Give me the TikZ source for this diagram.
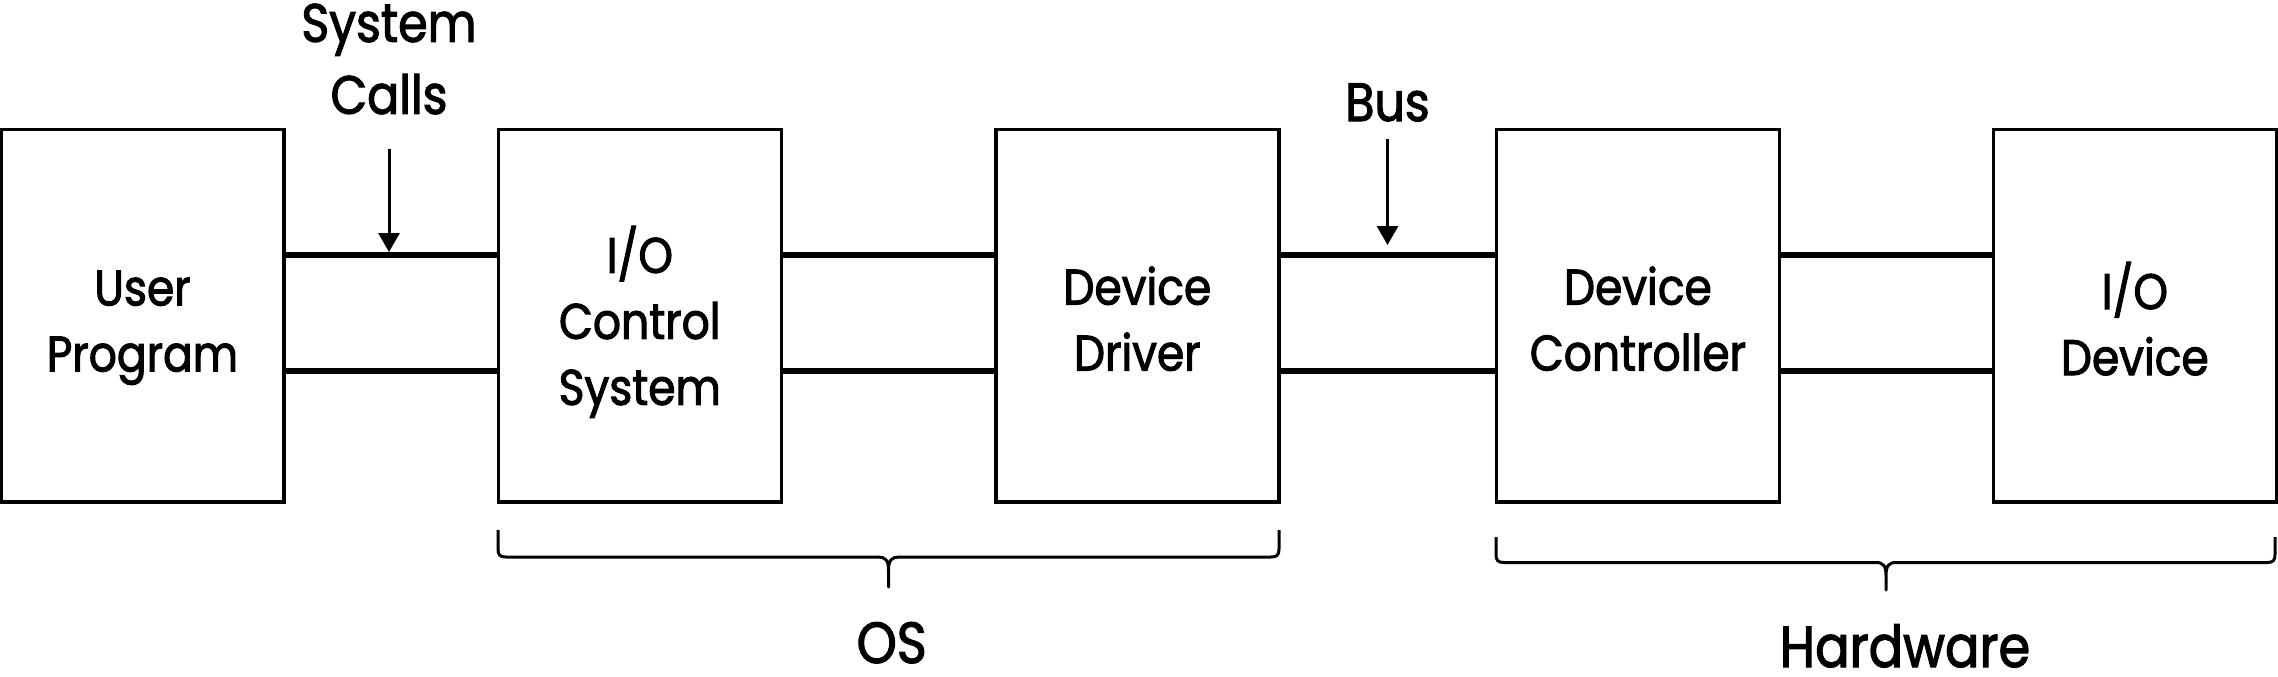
\documentclass[tikz,border=0pt]{standalone}
\usepackage{fontspec}
\setmainfont{Poppins}[FakeStretch=0.88,FakeBold=2]
\usetikzlibrary{arrows.meta}
\begin{document}
\begin{tikzpicture}[x=1pt,y=-1pt,
  box/.style={draw,line width=3.5pt,minimum width=283pt,minimum height=372.5pt,inner sep=0pt},
  boxtext/.style={font=\fontsize{50}{66}\selectfont,align=center,inner sep=0pt},
  toplabel/.style={font=\fontsize{54}{72}\selectfont,align=center,inner sep=0pt},
  grouplabel/.style={font=\fontsize{58}{70}\selectfont,inner sep=0pt,anchor=base},
  link/.style={line width=6pt},
  pointer/.style={line width=3pt,-{Triangle[width=21pt,length=19pt]}},
  brace/.style={line width=3pt,line join=round}]
\useasboundingbox (0,0) rectangle (2278,677);

% boxes
\node[box] (up) at (142.5,315.75) {};
\node[box] (ioc) at (639.8,315.75) {};
\node[box] (dd) at (1137.3,315.75) {};
\node[box] (dc) at (1637.9,315.75) {};
\node[box] (iod) at (2134.8,315.75) {};

% box texts
\node[boxtext] (up-t) at ([yshift=-12pt]up.center) {User\\Program};
\node[boxtext] (ioc-t) at ([yshift=-6pt]ioc.center) {I/O\\Control\\System};
\node[boxtext] (dd-t) at ([yshift=-3pt]dd.center) {Device\\Driver};
\node[boxtext] (dc-t) at ([yshift=-3pt]dc.center) {Device\\Controller};
\node[boxtext] (iod-t) at ([yshift=-3pt]iod.center) {I/O\\Device};

% double links
\foreach \a/\b in {up/ioc,ioc/dd,dd/dc,dc/iod}{
  \draw[link] ([yshift=61.25pt]\a.east) -- ([yshift=61.25pt]\b.west);
  \draw[link] ([yshift=-54.75pt]\a.east) -- ([yshift=-54.75pt]\b.west);
}

% labels with arrows
\node[toplabel] (sc) at (389,59) {System\\Calls};
\coordinate (sc-end) at (389,252);
\draw[pointer,shorten <=34pt] (sc.south) -- (sc-end);

\node[toplabel,anchor=base] (bus) at (1387.5,121) {Bus};
\coordinate (bus-end) at (1387.5,245);
\draw[pointer,shorten <=17pt] (bus.south) -- (bus-end);

% braces
\draw[brace] (498,530) -- (498,549) .. controls (498,555) and (500,557) .. (506,557)
  -- (878,557) .. controls (885,557) and (888.5,560) .. (888.5,570) -- (888.5,587)
  -- (888.5,570) .. controls (888.5,560) and (892,557) .. (899,557)
  -- (1271,557) .. controls (1277,557) and (1279,555) .. (1279,549) -- (1279,530);
\draw[brace] (1496,537) -- (1496,554.5) .. controls (1496,560.5) and (1498,562.5) .. (1504,562.5)
  -- (1876,562.5) .. controls (1883,562.5) and (1886,565.5) .. (1886,575.5) -- (1886,590)
  -- (1886,575.5) .. controls (1886,565.5) and (1889,562.5) .. (1896,562.5)
  -- (2267,562.5) .. controls (2273,562.5) and (2275,560.5) .. (2275,554.5) -- (2275,537);

\node[grouplabel] (os) at (891.7,663) {OS};
\node[grouplabel] (hw) at (1905,667) {Hardware};
\end{tikzpicture}
\end{document}
